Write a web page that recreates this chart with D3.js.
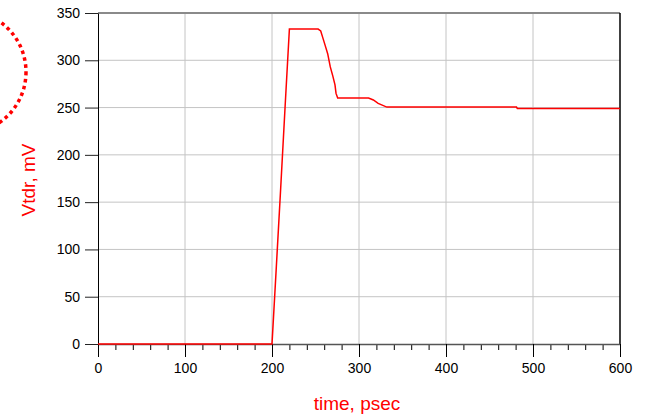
<!DOCTYPE html>
<html>
<head>
<meta charset="utf-8">
<script src="https://cdn.jsdelivr.net/npm/d3@7"></script>
<style>
  body { margin: 0; background: #fff; }
  text { font-family: "Liberation Sans", Arial, sans-serif; }
</style>
</head>
<body>
<div id="chart"></div>
<script>
// TDR waveform
var timePs = [0, 200, 205, 210, 215, 220, 253, 256, 258, 261, 264, 267, 270, 272.4, 273.6, 275.5,
              311, 316.5, 322, 332, 481, 482, 600];
var vtdrMv = [0, 0, 82, 165, 250, 333, 333, 331, 325, 316, 307, 293, 283, 274, 265, 260,
              260, 258, 254.5, 250.5, 250.5, 249, 249];

var xTicks = [0, 100, 200, 300, 400, 500, 600];
var yTicks = [0, 50, 100, 150, 200, 250, 300, 350];

var data = timePs.map(function (t, i) { return { t: t, v: vtdrMv[i] }; });

var W = 646, H = 414;
var margin = { top: 13, right: 26, bottom: 70, left: 98 };
var width = W - margin.left - margin.right, height = H - margin.top - margin.bottom;

var svg = d3.select("#chart").append("svg")
  .attr("width", W).attr("height", H);

// decorative dotted arc at the left edge
svg.append("circle")
  .attr("cx", -35.5).attr("cy", 72).attr("r", 61.5)
  .attr("fill", "none").attr("stroke", "#ff0000")
  .attr("stroke-width", 3.5).attr("stroke-dasharray", "3.5,3.5");

var g = svg.append("g")
  .attr("transform", "translate(" + margin.left + "," + margin.top + ")");

var x = d3.scaleLinear().domain([0, 600]).range([0, width]);
var y = d3.scaleLinear().domain([0, 350]).range([height, 0]);

// grid
g.append("g").selectAll("line").data(xTicks.slice(1, -1)).enter().append("line")
  .attr("x1", x).attr("x2", x).attr("y1", 0).attr("y2", height)
  .attr("stroke", "#c4c4c4").attr("stroke-width", 1);
g.append("g").selectAll("line").data(yTicks.slice(1, -1)).enter().append("line")
  .attr("y1", y).attr("y2", y).attr("x1", 0).attr("x2", width)
  .attr("stroke", "#c4c4c4").attr("stroke-width", 1);

// frame
g.append("line").attr("x1", 0).attr("x2", width).attr("y1", 0).attr("y2", 0)
  .attr("stroke", "#8a8a8a").attr("stroke-width", 2);
g.append("line").attr("x1", width).attr("x2", width).attr("y1", 0).attr("y2", height)
  .attr("stroke", "#000").attr("stroke-width", 1.5);

// x axis: majors + minor ticks
var xMinor = d3.range(0, 601, 20).filter(function (d) { return d % 100 !== 0; });
var xAxisG = g.append("g").attr("transform", "translate(0," + height + ")");
xAxisG.append("g").call(d3.axisBottom(x).tickValues(xMinor).tickSize(6).tickFormat(""))
  .call(function (s) { s.select(".domain").remove(); });
xAxisG.append("g").call(d3.axisBottom(x).tickValues(xTicks).tickSize(13).tickSizeOuter(0).tickPadding(6))
  .call(function (s) {
    s.select(".domain").attr("stroke", "#555").attr("stroke-width", 1.5);
    s.selectAll("text").attr("font-size", 14).attr("fill", "#000")
      .attr("font-family", "Liberation Sans, Arial, sans-serif");
  });
xAxisG.selectAll(".tick line").attr("stroke", "#000");

// y axis
g.append("g").call(d3.axisLeft(y).tickValues(yTicks).tickSize(13).tickSizeOuter(0).tickPadding(5))
  .call(function (s) {
    s.select(".domain").attr("stroke", "#000");
    s.selectAll(".tick line").attr("stroke", "#222");
    s.selectAll("text").attr("font-size", 14).attr("fill", "#000")
      .attr("font-family", "Liberation Sans, Arial, sans-serif");
  });

// titles
svg.append("text").attr("x", 357).attr("y", 410).attr("text-anchor", "middle")
  .attr("font-size", 19).attr("fill", "#ff0000").text("time, psec");
svg.append("text").attr("transform", "translate(35,180) rotate(-90)").attr("text-anchor", "middle")
  .attr("font-size", 19).attr("fill", "#ff0000").text("Vtdr, mV");

// waveform
var line = d3.line().x(function (d) { return x(d.t); }).y(function (d) { return y(d.v); });
g.append("path").datum(data).attr("d", line)
  .attr("fill", "none").attr("stroke", "#ff0000").attr("stroke-width", 1.5);
</script>
</body>
</html>
